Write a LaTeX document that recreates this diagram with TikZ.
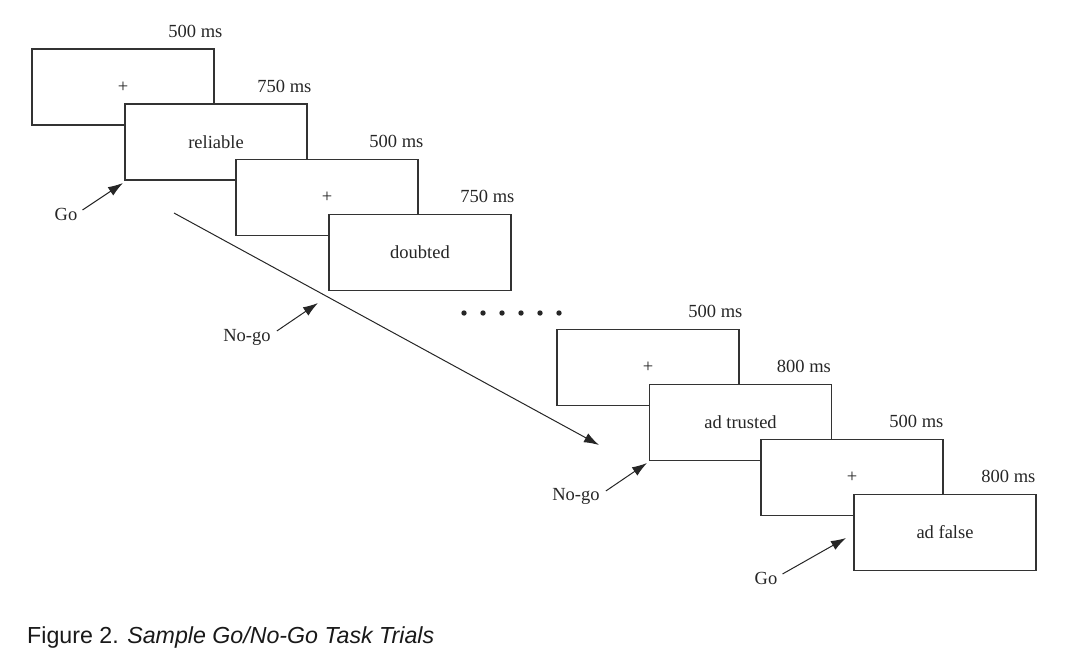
\documentclass[tikz,border=0pt]{standalone}
\usepackage{fontspec}
\setmainfont{Liberation Serif}
\newfontfamily\capfont{Liberation Sans}
\usepackage{tikz}
\usetikzlibrary{arrows.meta,positioning}

\begin{document}
\begin{tikzpicture}[x=1pt,y=-1pt,
    screen/.style={draw=black!80,fill=white,line width=1.1pt,minimum width=182pt,minimum height=76pt,inner sep=0pt,text=black!85,font=\fontsize{18.5}{21}\selectfont},
    dur/.style={anchor=base east,inner sep=0pt,text=black!85,font=\fontsize{18.5}{21}\selectfont},
    resp/.style={anchor=base,inner sep=0pt,text=black!85,font=\fontsize{18.5}{21}\selectfont},
    cue/.style={-{Latex[length=15pt,width=10pt]},line width=1pt,draw=black!85}]
  \useasboundingbox (0,0) rectangle (1087,667);

  % first trials
  \node[screen] (s_1) at (123,87) {+};
  \node[screen] (s_2) at (216,142) {reliable};
  \node[screen] (s_3) at (327,197.5) {+};
  \node[screen] (s_4) at (420,252.5) {doubted};
  % last trials
  \node[screen] (s_5) at (648,367.5) {+};
  \node[screen] (s_6) at (740.5,422.5) {ad trusted};
  \node[screen] (s_7) at (852,477.5) {+};
  \node[screen] (s_8) at (945,532.5) {ad false};

  \node[dur] (d_1) at ([shift={(8,-11)}]s_1.north east) {500 ms};
  \node[dur] (d_2) at ([shift={(4,-11)}]s_2.north east) {750 ms};
  \node[dur] (d_3) at ([shift={(5,-11)}]s_3.north east) {500 ms};
  \node[dur] (d_4) at ([shift={(3,-11)}]s_4.north east) {750 ms};
  \node[dur] (d_5) at ([shift={(3,-11)}]s_5.north east) {500 ms};
  \node[dur] (d_6) at ([shift={(-1,-11)}]s_6.north east) {800 ms};
  \node[dur] (d_7) at ([shift={(0,-11)}]s_7.north east) {500 ms};
  \node[dur] (d_8) at ([shift={(-1,-11)}]s_8.north east) {800 ms};

  \foreach \k in {0,...,5}
    \fill[black!85] (464+19*\k,313) circle (2.7);

  % responses
  \node[resp] (r_1) at (66,220) {Go};
  \node[resp] (r_2) at (247,341) {No-go};
  \node[resp] (r_3) at (576,500) {No-go};
  \node[resp] (r_4) at (766,584) {Go};

  \coordinate (e_1) at (123,183);
  \coordinate (e_2) at (318,303);
  \coordinate (e_3) at (647,463);
  \coordinate (e_4) at (846,538);
  \coordinate (skip_a) at (174,213);
  \coordinate (skip_b) at (599,445);

  \draw[cue] ([shift={(5,-10)}]r_1.base east) -- (e_1);
  \draw[cue] ([shift={(6,-10)}]r_2.base east) -- (e_2);
  \draw[cue] ([shift={(6,-9)}]r_3.base east) -- (e_3);
  \draw[cue] ([shift={(5,-10)}]r_4.base east) -- (e_4);
  \draw[cue] (skip_a) -- (skip_b);

  \node[anchor=base west,inner sep=0pt,text=black!90,font=\capfont\fontsize{23.2}{27}\selectfont] (cap) at (27,643) {Figure 2. \textit{Sample Go/No-Go Task Trials}};
\end{tikzpicture}
\end{document}
